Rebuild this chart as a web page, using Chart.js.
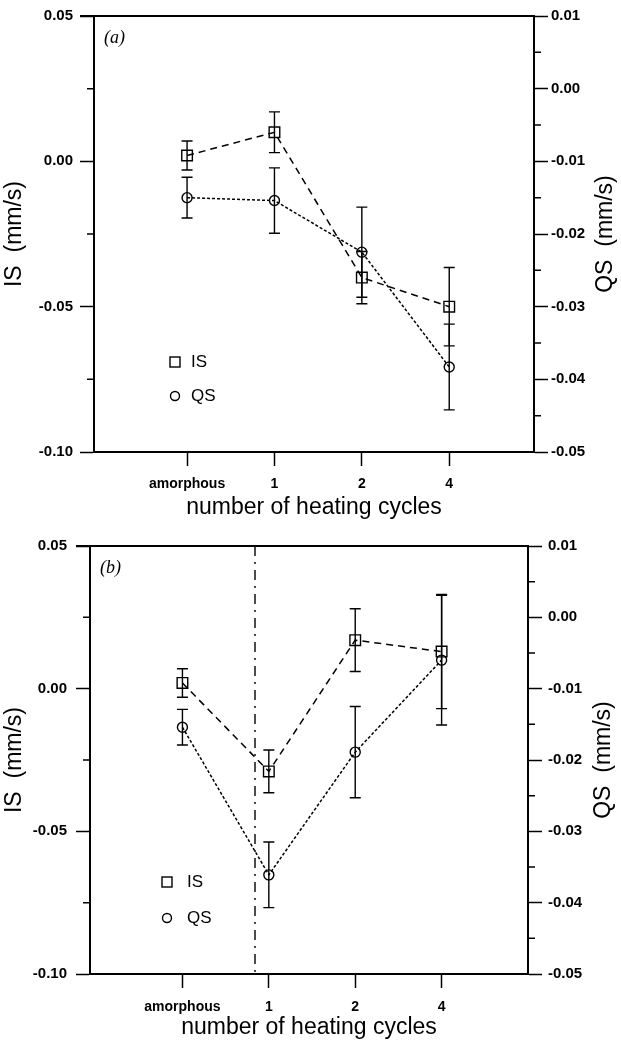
<!DOCTYPE html>
<html>
<head>
<meta charset="utf-8">
<script src="https://cdn.jsdelivr.net/npm/chart.js@4/dist/chart.umd.min.js"></script>
<style>
  body { margin: 0; background: #fff; }
  canvas { display: block; }
</style>
</head>
<body>
<canvas id="panelA" width="621" height="522"></canvas>
<canvas id="panelB" width="621" height="522"></canvas>
<script>
const cycles = ['amorphous', '1', '2', '4'];
const isTicks = [-0.10, -0.05, 0.00, 0.05];
const qsTicks = [-0.05, -0.04, -0.03, -0.02, -0.01, 0.00, 0.01];

// panel (a)
const isA = [0.002, 0.010, -0.040, -0.050];
const isErrA = [0.005, 0.007, 0.009, 0.0135];
const qsA = [-0.0150, -0.0154, -0.0225, -0.0383];
const qsErrA = [0.0028, 0.0045, 0.0062, 0.0059];

// panel (b)
const isB = [0.002, -0.029, 0.017, 0.013];
const isErrB = [0.005, 0.0075, 0.011, 0.020];
const qsB = [-0.0154, -0.0361, -0.0189, -0.006];
const qsErrB = [0.0025, 0.0046, 0.0064, 0.0091];
const splitB = 0.84; // dash-dot line between amorphous and 1

const FONT = '"Liberation Sans", Arial, sans-serif';
Chart.defaults.font.family = FONT;
Chart.defaults.color = '#000';

function points(vals) {
  return vals.map(function (v, i) { return { x: i, y: v }; });
}

// frame, minor ticks, error bars, legend, labels
const extras = {
  id: 'extras',
  beforeDatasetsDraw(chart) {
    const ctx = chart.ctx;
    ctx.save();
    ctx.strokeStyle = '#000';
    ctx.lineWidth = 1.4;
    chart.data.datasets.forEach(function (ds, i) {
      const meta = chart.getDatasetMeta(i);
      const ys = chart.scales[ds.yAxisID];
      meta.data.forEach(function (pt, j) {
        const v = ds.data[j].y, e = ds.errors[j];
        const y1 = ys.getPixelForValue(v + e);
        const y2 = ys.getPixelForValue(v - e);
        ctx.beginPath();
        ctx.moveTo(pt.x, y1); ctx.lineTo(pt.x, y2);
        ctx.moveTo(pt.x - 5.5, y1); ctx.lineTo(pt.x + 5.5, y1);
        ctx.moveTo(pt.x - 5.5, y2); ctx.lineTo(pt.x + 5.5, y2);
        ctx.stroke();
      });
    });
    ctx.restore();
  },
  afterDraw(chart, args, opts) {
    const ctx = chart.ctx;
    const a = chart.chartArea;
    const yl = chart.scales.yIS, yr = chart.scales.yQS, x = chart.scales.x;
    ctx.save();
    ctx.strokeStyle = '#000';
    ctx.fillStyle = '#000';

    // top frame line
    ctx.lineWidth = 2;
    ctx.beginPath();
    ctx.moveTo(a.left - 14, a.top); ctx.lineTo(a.right, a.top);
    ctx.stroke();

    // minor ticks
    ctx.lineWidth = 1.5;
    ctx.beginPath();
    for (let i = 0; i < isTicks.length - 1; i++) {
      const y = yl.getPixelForValue((isTicks[i] + isTicks[i + 1]) / 2);
      ctx.moveTo(a.left, y); ctx.lineTo(a.left - 7, y);
    }
    for (let i = 0; i < qsTicks.length - 1; i++) {
      const y = yr.getPixelForValue((qsTicks[i] + qsTicks[i + 1]) / 2);
      ctx.moveTo(a.right, y); ctx.lineTo(a.right + 7, y);
    }
    ctx.stroke();

    // vertical dash-dot marker
    if (opts.split !== undefined) {
      const sx = x.getPixelForValue(opts.split);
      ctx.lineWidth = 1.4;
      ctx.setLineDash([10, 6, 2, 6]);
      ctx.beginPath();
      ctx.moveTo(sx, a.top); ctx.lineTo(sx, a.bottom);
      ctx.stroke();
      ctx.setLineDash([]);
    }

    // legend
    const lx = a.left + opts.legendX, ly = a.top + opts.legendY, gap = opts.legendGap;
    ctx.lineWidth = 1.4;
    ctx.strokeRect(lx - 5, ly - 5, 10, 10);
    ctx.beginPath();
    ctx.arc(lx, ly + gap, 4.5, 0, 2 * Math.PI);
    ctx.stroke();
    ctx.font = '17px ' + FONT;
    ctx.textBaseline = 'middle';
    ctx.fillText('IS', lx + opts.legendText, ly);
    ctx.fillText('QS', lx + opts.legendText, ly + gap);

    // panel letter
    ctx.font = 'italic 18px "Liberation Serif", "DejaVu Serif", serif';
    ctx.fillText(opts.letter, a.left + 10, a.top + 22);

    // right axis title, reading bottom to top
    ctx.font = '23px ' + FONT;
    ctx.textAlign = 'center';
    ctx.translate(opts.rightTitleX, (a.top + a.bottom) / 2);
    ctx.rotate(-Math.PI / 2);
    ctx.fillText('QS  (mm/s)', 0, 0);
    ctx.restore();
  }
};

function fill(id, box, isVals, isErr, qsVals, qsErr, extraOpts) {
  const W = 621, H = 522;
  const data = {
    datasets: [{
      label: 'IS',
      yAxisID: 'yIS',
      data: points(isVals),
      errors: isErr,
      borderColor: '#000',
      borderWidth: 1.5,
      borderDash: [7, 5],
      pointStyle: 'rect',
      pointRadius: 7.5,
      pointBorderWidth: 1.4,
      pointBorderColor: '#000',
      pointBackgroundColor: 'rgba(0,0,0,0)',
      fill: false,
      tension: 0
    }, {
      label: 'QS',
      yAxisID: 'yQS',
      data: points(qsVals),
      errors: qsErr,
      borderColor: '#000',
      borderWidth: 1.5,
      borderDash: [3, 2],
      pointStyle: 'circle',
      pointRadius: 5,
      pointBorderWidth: 1.4,
      pointBorderColor: '#000',
      pointBackgroundColor: 'rgba(0,0,0,0)',
      fill: false,
      tension: 0
    }]
  };

  const config = {
    type: 'line',
    data: data,
    options: {
      responsive: false,
      animation: false,
      layout: { padding: { top: box.top, left: 0, right: 0, bottom: 0 } },
      plugins: {
        legend: { display: false },
        tooltip: { enabled: false },
        extras: extraOpts
      },
      scales: {
        x: {
          type: 'linear',
          position: 'bottom',
          min: box.xMin,
          max: box.xMax,
          afterBuildTicks: function (s) { s.ticks = cycles.map(function (c, i) { return { value: i }; }); },
          afterFit: function (s) { s.height = H - box.bottom; },
          grid: { drawOnChartArea: false, tickLength: 14, tickWidth: 1.5, tickColor: '#000' },
          border: { color: '#000', width: 2 },
          ticks: {
            autoSkip: false, maxRotation: 0, padding: box.xPad,
            font: { size: 14, weight: 'bold' },
            callback: function (v) { return cycles[v]; }
          },
          title: { display: true, text: 'number of heating cycles', font: { size: 23 }, padding: { top: 0, bottom: box.xTitlePad } }
        },
        yIS: {
          type: 'linear',
          position: 'left',
          min: -0.10,
          max: 0.05,
          afterBuildTicks: function (s) { s.ticks = isTicks.map(function (v) { return { value: v }; }); },
          afterFit: function (s) { s.width = box.left; },
          grid: { drawOnChartArea: false, tickLength: 14, tickWidth: 1.5, tickColor: '#000' },
          border: { color: '#000', width: 2 },
          ticks: { autoSkip: false, padding: box.lPad, font: { size: 15, weight: 'bold' }, callback: function (v) { return v.toFixed(2); } },
          title: { display: true, text: 'IS  (mm/s)', font: { size: 23 }, padding: { top: 1, bottom: 0 } }
        },
        yQS: {
          type: 'linear',
          position: 'right',
          min: -0.05,
          max: 0.01,
          afterBuildTicks: function (s) { s.ticks = qsTicks.map(function (v) { return { value: v }; }); },
          afterFit: function (s) { s.width = W - box.right; },
          grid: { drawOnChartArea: false, tickLength: 14, tickWidth: 1.5, tickColor: '#000' },
          border: { color: '#000', width: 2 },
          ticks: { autoSkip: false, padding: box.rPad, font: { size: 15, weight: 'bold' }, callback: function (v) { return v.toFixed(2); } }
        }
      }
    },
    plugins: [extras]
  };
  return new Chart(document.getElementById(id), config);
}

fill('panelA',
  { left: 94, right: 534, top: 16, bottom: 452, xMin: -1.065, xMax: 3.97, xPad: 10, xTitlePad: 1, lPad: 7, rPad: 3 },
  isA, isErrA, qsA, qsErrA,
  { letter: '(a)', legendX: 81, legendY: 346, legendGap: 34, legendText: 16, rightTitleX: 606 });

fill('panelB',
  { left: 90, right: 528, top: 24, bottom: 452, xMin: -1.07, xMax: 4.0, xPad: 11, xTitlePad: 3, lPad: 9, rPad: 6 },
  isB, isErrB, qsB, qsErrB,
  { letter: '(b)', legendX: 77, legendY: 336, legendGap: 36, legendText: 20, rightTitleX: 604, split: splitB });
</script>
</body>
</html>
